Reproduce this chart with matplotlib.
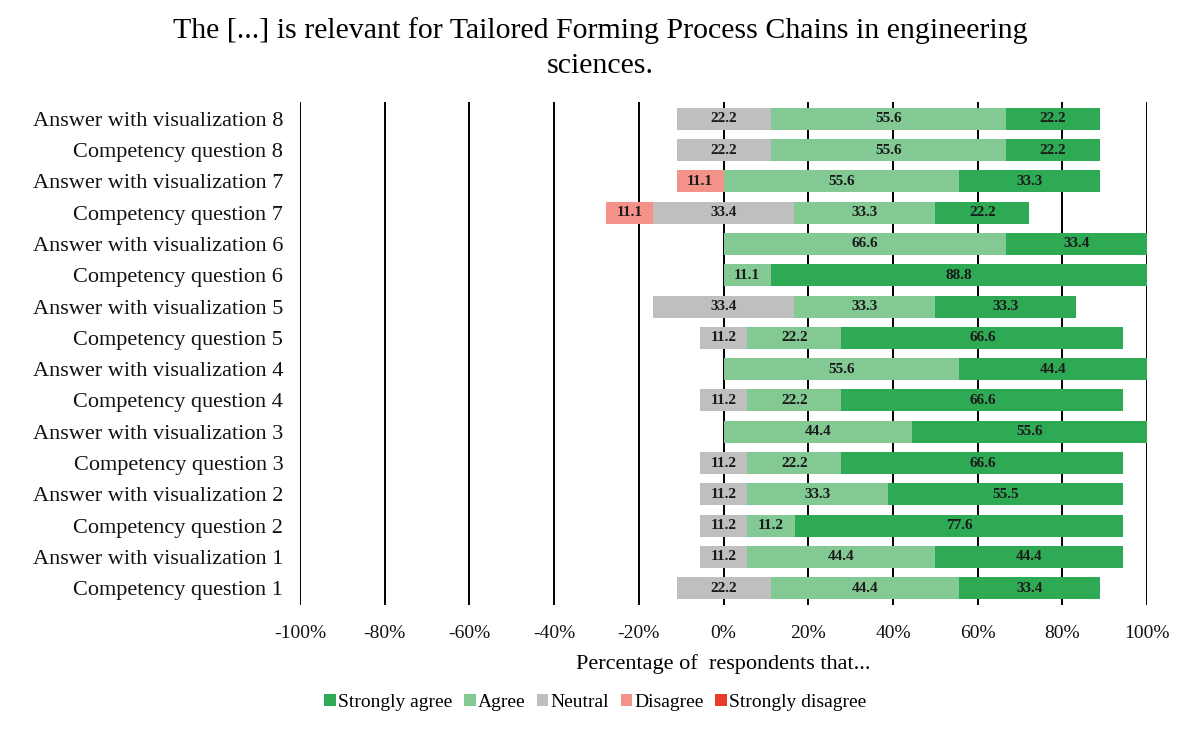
import numpy as np
import matplotlib
matplotlib.use("Agg")
import matplotlib.pyplot as plt
from matplotlib.patches import Patch

plt.rcParams['font.family'] = ['Liberation Serif', 'DejaVu Serif']

# ---- data (bottom -> top) ----
questions = [
    "Competency question 1", "Answer with visualization 1",
    "Competency question 2", "Answer with visualization 2",
    "Competency question 3", "Answer with visualization 3",
    "Competency question 4", "Answer with visualization 4",
    "Competency question 5", "Answer with visualization 5",
    "Competency question 6", "Answer with visualization 6",
    "Competency question 7", "Answer with visualization 7",
    "Competency question 8", "Answer with visualization 8",
]
strongly_disagree = [0, 0, 0, 0, 0, 0, 0, 0, 0, 0, 0, 0, 0, 0, 0, 0]
disagree = [0, 0, 0, 0, 0, 0, 0, 0, 0, 0, 0, 0, 11.1, 11.1, 0, 0]
neutral = [22.2, 11.2, 11.2, 11.2, 11.2, 0, 11.2, 0, 11.2, 33.4, 0, 0, 33.4, 0, 22.2, 22.2]
agree = [44.4, 44.4, 11.2, 33.3, 22.2, 44.4, 22.2, 55.6, 22.2, 33.3, 11.1, 66.6, 33.3, 55.6, 55.6, 55.6]
strongly_agree = [33.4, 44.4, 77.6, 55.5, 66.6, 55.6, 66.6, 44.4, 66.6, 33.3, 88.8, 33.4, 22.2, 33.3, 22.2, 22.2]

categories = ["Strongly agree", "Agree", "Neutral", "Disagree", "Strongly disagree"]
colors = {"Strongly agree": "#2faa54", "Agree": "#83c993", "Neutral": "#bfbfbf",
          "Disagree": "#f4928a", "Strongly disagree": "#ea3b2c"}

sd = np.array(strongly_disagree)
d = np.array(disagree)
n = np.array(neutral)
a = np.array(agree)
sa = np.array(strongly_agree)
y = np.arange(len(questions))

# left edges of the segments (neutral centred on 0)
n_left = -n / 2
d_left = n_left - d
sd_left = d_left - sd
a_left = n / 2
sa_left = a_left + a

fig = plt.figure(figsize=(12, 7.38), dpi=100)
ax = fig.add_axes([0.25, 0.18, 0.706, 0.682])

h = 0.7
segments = [
    (sd, sd_left, "Strongly disagree"),
    (d, d_left, "Disagree"),
    (n, n_left, "Neutral"),
    (a, a_left, "Agree"),
    (sa, sa_left, "Strongly agree"),
]
for vals, lefts, name in segments:
    ax.barh(y, vals, left=lefts, height=h, color=colors[name], zorder=3)
    for yi, v, l in zip(y, vals, lefts):
        if v > 0:
            ax.text(l + v / 2, yi, f"{v:.1f}", ha='center', va='center',
                    fontsize=11, fontweight='bold', color='#1a1a1a', zorder=4)

ax.set_xlim(-100, 100)
ax.set_ylim(-0.54, len(questions) - 0.46)
ax.set_xticks(np.arange(-100, 101, 20))
ax.set_xticklabels([f"{t}%" for t in range(-100, 101, 20)])
ax.set_yticks(y)
ax.set_yticklabels(questions)
ax.tick_params(axis='both', length=0, colors='#111111')
ax.tick_params(axis='x', pad=14, labelsize=14)
ax.tick_params(axis='y', pad=12, labelsize=16)
for s in ax.spines.values():
    s.set_visible(False)
for t in np.arange(-100, 101, 20):
    ax.axvline(t, color='black', linewidth=1.4, zorder=1)

ax.set_xlabel("Percentage of  respondents that...", fontsize=16, labelpad=9)

fig.suptitle("The [...] is relevant for Tailored Forming Process Chains in engineering\nsciences.",
             fontsize=21.5, y=0.977, linespacing=1.45)

handles = [Patch(facecolor=colors[c], label=c) for c in categories]
fig.legend(handles=handles, loc='center', bbox_to_anchor=(0.496, 0.048), ncol=5,
           frameon=False, fontsize=14, handlelength=0.6, handleheight=0.6,
           handletextpad=0.1, columnspacing=0.6)

fig.savefig("out.png", dpi=100)
